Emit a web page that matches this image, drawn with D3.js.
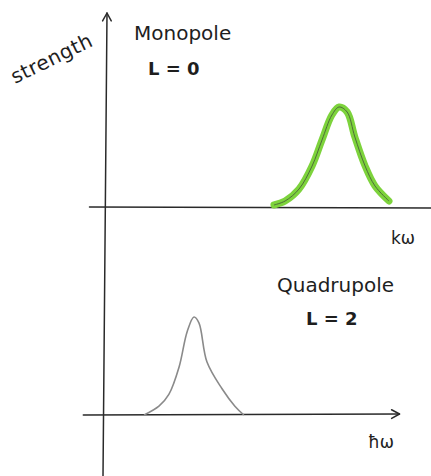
<!DOCTYPE html>
<html>
<head>
<meta charset="utf-8">
<script src="https://cdn.jsdelivr.net/npm/d3@7"></script>
<style>
  body { margin: 0; background: #fff; }
  svg { display: block; }
  .label { font-family: "DejaVu Sans", sans-serif; fill: #1e1e1e; }
</style>
</head>
<body>
<script>
// Monopole (L = 0) response
const monopoleOmega = [5.45, 5.81, 6.26, 6.68, 7.0, 7.32, 7.55, 7.81, 8.06, 8.39, 8.71, 9.16];
const monopoleStrength = [0.02, 0.06, 0.18, 0.41, 0.67, 0.92, 1.0, 0.95, 0.7, 0.41, 0.21, 0.06];

// Quadrupole (L = 2) response
const quadOmega = [1.26, 1.74, 2.06, 2.39, 2.65, 2.87, 3.03, 3.29, 3.77, 4.19, 4.48];
const quadStrength = [0, 0.09, 0.21, 0.49, 0.85, 1.0, 0.94, 0.54, 0.27, 0.09, 0];

const panelTitles = ["Monopole", "Quadrupole"];
const panelL = ["L = 0", "L = 2"];
const xLabels = ["kω", "ħω"];
const yLabel = "strength";

const width = 431, height = 476;

const svg = d3.select("body")
  .append("svg")
  .attr("width", width)
  .attr("height", height);

const x = d3.scaleLinear().domain([0, 10]).range([105, 415]);
const yTop = d3.scaleLinear().domain([0, 1]).range([207, 107]);
const yBot = d3.scaleLinear().domain([0, 1]).range([415, 317]);

const ink = "#2a2a2a";

// open arrow head at (tx, ty) pointing in direction angle (deg)
const arrowHead = (tx, ty, angle) => {
  const a = angle * Math.PI / 180, len = 9, spread = 0.5;
  const p1 = [tx - len * Math.cos(a - spread), ty - len * Math.sin(a - spread)];
  const p2 = [tx - len * Math.cos(a + spread), ty - len * Math.sin(a + spread)];
  return "M" + p1 + "L" + [tx, ty] + "L" + p2;
};

const axes = svg.append("g").attr("class", "axes")
  .attr("fill", "none").attr("stroke", ink).attr("stroke-width", 1.5)
  .attr("stroke-linecap", "round").attr("stroke-linejoin", "round");

// vertical strength axis (slightly slanted, like the sketch)
axes.append("path").attr("d", "M" + [103, 476] + "L" + [107, 13]);
axes.append("path").attr("d", arrowHead(107, 13, -89.5));

// top horizontal axis
axes.append("path").attr("d", "M" + [x(-0.5), yTop(0)] + "L" + [x(10.8), yTop(-0.01)]);
axes.append("path").attr("d", arrowHead(x(10.8), yTop(-0.01), 0));

// bottom horizontal axis
axes.append("path").attr("d", "M" + [x(-0.7), yBot(0)] + "L" + [x(9.5), yBot(0.01)]);
axes.append("path").attr("d", arrowHead(x(9.5), yBot(0.01), -0.5));

// curves
const lineTop = d3.line()
  .x((d, i) => x(monopoleOmega[i]))
  .y(d => yTop(d))
  .curve(d3.curveCatmullRom);

const lineBot = d3.line()
  .x((d, i) => x(quadOmega[i]))
  .y(d => yBot(d))
  .curve(d3.curveCatmullRom);

svg.append("path")
  .attr("d", lineTop(monopoleStrength))
  .attr("fill", "none")
  .attr("stroke", "#7dd33c")
  .attr("stroke-width", 7)
  .attr("stroke-linecap", "round")
  .attr("stroke-linejoin", "round");

svg.append("path")
  .attr("d", lineTop(monopoleStrength))
  .attr("fill", "none")
  .attr("stroke", "#4d6b3a")
  .attr("stroke-width", 1);

svg.append("path")
  .attr("d", lineBot(quadStrength))
  .attr("fill", "none")
  .attr("stroke", "#8a8a8a")
  .attr("stroke-width", 1.6);

// text
svg.append("text").attr("class", "label")
  .attr("transform", "translate(15,84) rotate(-26)")
  .attr("font-size", 20)
  .attr("letter-spacing", 0.5)
  .text(yLabel);

svg.append("text").attr("class", "label")
  .attr("x", 134).attr("y", 40).attr("font-size", 20)
  .text(panelTitles[0]);
svg.append("text").attr("class", "label")
  .attr("x", 148).attr("y", 75).attr("font-size", 18).attr("font-weight", "bold")
  .text(panelL[0]);

svg.append("text").attr("class", "label")
  .attr("x", 277).attr("y", 292).attr("font-size", 20)
  .text(panelTitles[1]);
svg.append("text").attr("class", "label")
  .attr("x", 306).attr("y", 325).attr("font-size", 18).attr("font-weight", "bold")
  .text(panelL[1]);

svg.append("text").attr("class", "label")
  .attr("x", 391).attr("y", 244).attr("font-size", 17)
  .text(xLabels[0]);
svg.append("text").attr("class", "label")
  .attr("x", 368).attr("y", 448).attr("font-size", 17)
  .text(xLabels[1]);
</script>
</body>
</html>
